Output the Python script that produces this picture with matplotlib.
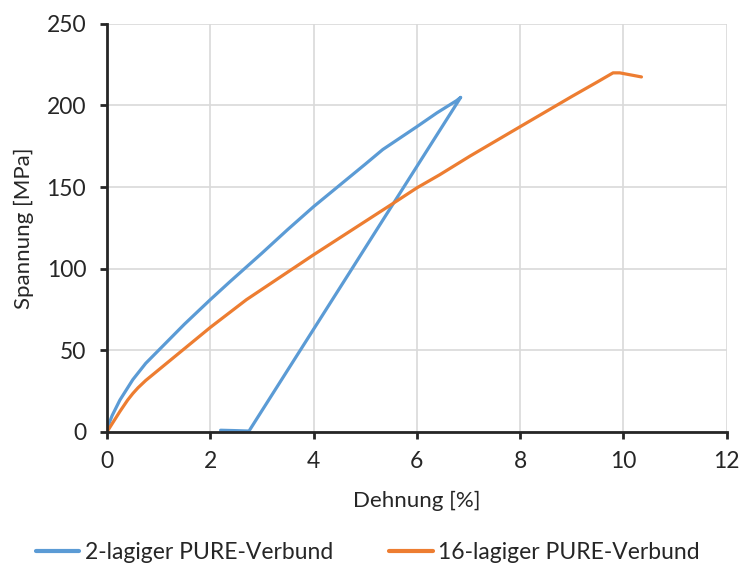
import matplotlib
matplotlib.use("Agg")
import matplotlib.pyplot as plt

plt.rcParams['font.family'] = ['Lato', 'DejaVu Sans']

# 2-lagiger Verbund: Belastung bis Bruch, danach Entlastung
strain_2 = [0.0, 0.1, 0.25, 0.5, 0.75, 1.0, 1.5, 2.0, 2.38, 3.0, 3.5, 4.0,
            4.5, 5.0, 5.34, 6.0, 6.39, 6.77, 6.85, 2.75, 2.45, 2.2]
stress_2 = [2.0, 10, 19.5, 32, 42, 50, 66, 81, 92, 109.5, 124, 138,
            151, 164, 173, 187, 195.5, 203, 205, 0.5, 0.8, 1.0]

# 16-lagiger Verbund
strain_16 = [0.0, 0.25, 0.4, 0.5, 0.6, 0.75, 1.0, 1.5, 2.0, 2.7, 4.0, 5.54,
             6.0, 6.44, 7.03, 8.0, 9.0, 9.5, 9.8, 9.93, 10.35]
stress_16 = [0.0, 12.5, 19.5, 23.5, 27, 31.5, 38, 51, 64, 81, 108.5, 140,
             149.5, 157.5, 169, 187, 205.5, 214.5, 220, 220, 217.5]

labels = ['2-lagiger PURE-Verbund', '16-lagiger PURE-Verbund']
colors = ['#5B9BD5', '#ED7D31']
text_color = '#262626'

fig = plt.figure(figsize=(7.43, 5.69), dpi=100)
ax = fig.add_axes([0.144, 0.241, 0.834, 0.717])

ax.plot(strain_2, stress_2, color=colors[0], lw=2.3, label=labels[0],
        solid_joinstyle='round', solid_capstyle='round')
ax.plot(strain_16, stress_16, color=colors[1], lw=2.3, label=labels[1],
        solid_joinstyle='round', solid_capstyle='round')

ax.set_xlim(0, 12)
ax.set_ylim(0, 250)
ax.set_xticks(range(0, 13, 2))
ax.set_yticks(range(0, 251, 50))
ax.grid(True, color='#d9d9d9', lw=1.2)
ax.set_axisbelow(True)

for side in ['top', 'right']:
    ax.spines[side].set_visible(False)
for side in ['left', 'bottom']:
    ax.spines[side].set_linewidth(2.0)
    ax.spines[side].set_color(text_color)

ax.tick_params(axis='both', direction='out', length=5, width=2,
               color=text_color, labelsize=16.5, labelcolor=text_color)
ax.tick_params(axis='y', pad=10)
ax.tick_params(axis='x', pad=9)

ax.set_xlabel('Dehnung [%]', fontsize=16, color=text_color, labelpad=13)
ax.set_ylabel('Spannung [MPa]', fontsize=16, color=text_color, labelpad=9)

leg = fig.legend(loc='lower center', bbox_to_anchor=(0.495, -0.025), ncol=2,
                 frameon=False, fontsize=16.5, handlelength=1.9,
                 handletextpad=0.25, columnspacing=2.45, labelcolor=text_color)
for line in leg.get_lines():
    line.set_linewidth(3.0)

fig.savefig('out.png', dpi=100)
